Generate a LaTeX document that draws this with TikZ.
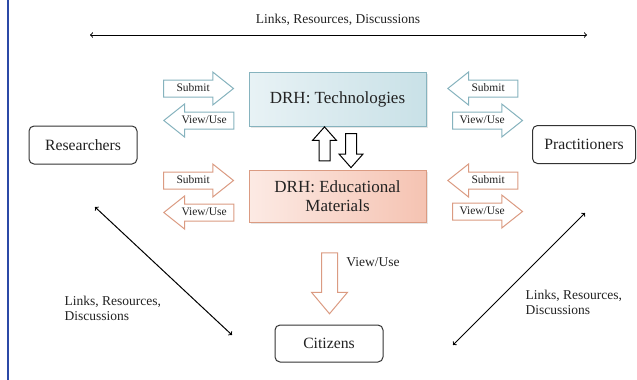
\documentclass[tikz,border=0pt]{standalone}
\usepackage{fontspec}
\newfontfamily\drhfont{Liberation Serif}
\usetikzlibrary{shapes.arrows,shadows}

\definecolor{edgeblue}{HTML}{2B49A6}
\definecolor{techline}{HTML}{86B3BE}
\definecolor{techleft}{HTML}{E8F2F5}
\definecolor{techright}{HTML}{C9E1E7}
\definecolor{eduline}{HTML}{DB9B82}
\definecolor{eduleft}{HTML}{FCEAE4}
\definecolor{eduright}{HTML}{F5C3B2}
\definecolor{ink}{HTML}{222222}

\begin{document}
\begin{tikzpicture}[x=1pt,y=-1pt,text=ink,
    actor/.style={draw=black!80,fill=white,rounded corners=5pt,line width=1pt,
        minimum width=108pt,minimum height=38pt,font=\drhfont\fontsize{15.7}{18}\selectfont},
    repo/.style={line width=1pt,minimum width=177pt,minimum height=54pt,align=center,
        font=\drhfont\fontsize{17}{19}\selectfont,
        drop shadow={opacity=0.2,shadow xshift=1.5pt,shadow yshift=-1.5pt}},
    flow/.style={single arrow,draw,fill=white,line width=1pt,minimum height=70pt,
        single arrow head extend=8pt,single arrow tip angle=77,
        text height=7.5pt,text depth=2pt,inner ysep=3.25pt,inner xsep=2pt,
        font=\drhfont\fontsize{11.5}{13}\selectfont},
    flowleft/.style={flow,shape border rotate=180},
    swap/.style={single arrow,draw,fill=white,line width=1pt,inner sep=5pt,
        minimum height=34pt,single arrow head extend=6.5pt,single arrow tip angle=83},
    link/.style={<->,line width=1pt},
    linklabel/.style={align=left,font=\drhfont\fontsize{13.5}{15}\selectfont}]

    \useasboundingbox (0,0) rectangle (637,380);

    % left margin rule
    \draw[edgeblue,line width=2.5pt] (8,0) -- (8,380);

    % the two repositories
    \node[repo,draw=techline,left color=techleft,right color=techright] (tech) at (337.5,99.5) {DRH: Technologies};
    \node[repo,draw=eduline,left color=eduleft,right color=eduright,minimum height=52pt] (edu) at (337.5,196) {DRH: Educational\\Materials};

    % users
    \node[actor] (res) at (83,145) {Researchers};
    \node[actor,minimum width=103pt] (prac) at (584,144.5) {Practitioners};
    \node[actor,minimum height=37pt] (cit) at (329,343.5) {Citizens};

    % researchers side
    \node[flow,draw=techline,anchor=tail] (lsubT) at (163,88.5) {Submit};
    \node[flowleft,draw=techline,anchor=tip] (lviewT) at (163,120.5) {View/Use};
    \node[flow,draw=eduline,anchor=tail] (lsubE) at (163,180.5) {Submit};
    \node[flowleft,draw=eduline,anchor=tip] (lviewE) at (163,212.5) {View/Use};

    % practitioners side
    \node[flowleft,draw=techline,anchor=tip] (rsubT) at (447,88.5) {Submit};
    \node[flow,draw=techline,anchor=tail] (rviewT) at (452,120.5) {View/Use};
    \node[flowleft,draw=eduline,anchor=tip] (rsubE) at (447,180.5) {Submit};
    \node[flow,draw=eduline,anchor=tail] (rviewE) at (452,211.5) {View/Use};

    % exchange between the repositories
    \node[swap,shape border rotate=90] (up) at (324.5,147) {};
    \node[swap,shape border rotate=270] (down) at (351,147.5) {};

    % citizens
    \node[single arrow,draw=eduline,fill=white,line width=1pt,inner sep=7.5pt,
        minimum height=61pt,single arrow head extend=10pt,single arrow tip angle=80,
        shape border rotate=270] (citview) at (329.5,278.5) {};
    \node[linklabel] (citlbl) at (373,262) {View/Use};

    % links, resources, discussions
    \coordinate (topL) at (90,35);
    \coordinate (topR) at (587,35);
    \draw[link] (topL) -- (topR);
    \node[linklabel] (toplbl) at (338,20) {Links, Resources, Discussions};

    \coordinate (resA) at (95,207);
    \coordinate (citA) at (232,335);
    \draw[link] (resA) -- (citA);
    \node[linklabel,anchor=west] (leftlbl) at (61,308) {Links, Resources,\\Discussions};

    \coordinate (pracA) at (585,213);
    \coordinate (citB) at (453,345);
    \draw[link] (pracA) -- (citB);
    \node[linklabel,anchor=west] (rightlbl) at (522,302) {Links, Resources,\\Discussions};

\end{tikzpicture}
\end{document}
